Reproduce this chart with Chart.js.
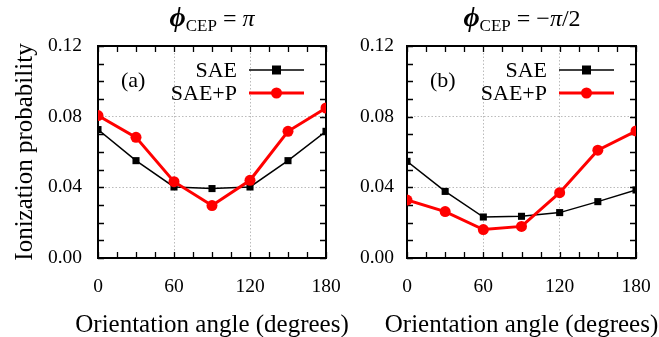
<!DOCTYPE html>
<html><head><meta charset="utf-8">
<script src="https://cdn.jsdelivr.net/npm/chart.js@4/dist/chart.umd.min.js"></script>
<style>
html,body{margin:0;padding:0;background:#fff;}
#wrap{position:relative;width:659px;height:337px;overflow:hidden;font-family:"Liberation Serif","Times New Roman",serif;}
canvas{position:absolute;top:0;}
.ttl{position:absolute;top:1px;font-size:24px;color:#000;white-space:nowrap;transform:translateX(-50%);}
.ttl .phi{font-weight:bold;font-style:italic;font-size:28px;}
.ttl sub{font-size:17px;vertical-align:-5px;}
.ttl i{font-style:italic;}
</style></head><body>
<div id="wrap">
<canvas id="ca" width="365" height="337" style="left:0;width:365px;height:337px"></canvas>
<canvas id="cb" width="345" height="337" style="left:340px;width:345px;height:337px"></canvas>
<div class="ttl" style="left:212px"><span class="phi">ϕ</span><sub>CEP</sub> = <i>π</i></div>
<div class="ttl" style="left:522px"><span class="phi">ϕ</span><sub>CEP</sub> = −<i>π</i>/2</div>
</div>
<script>
const angles = [0, 30, 60, 90, 120, 150, 180];
const saeA  = [0.0727, 0.0551, 0.0402, 0.0393, 0.0402, 0.0551, 0.0717];
const saePA = [0.0806, 0.0683, 0.0432, 0.0297, 0.0440, 0.0717, 0.0849];
const saeB  = [0.0547, 0.0377, 0.0232, 0.0236, 0.0257, 0.0319, 0.0385];
const saePB = [0.0328, 0.0263, 0.0161, 0.0179, 0.0370, 0.0610, 0.0719];
const yTicks = [0.00, 0.04, 0.08, 0.12];
const xTicks = [0, 60, 120, 180];
const seriesNames = ['SAE', 'SAE+P'];
const panelLabels = ['(a)', '(b)'];
const xTitle = 'Orientation angle (degrees)';
const yTitle = 'Ionization probability';

const FONT = "'Liberation Serif','Times New Roman',serif";

const framePlugin = {
  id: 'frame',
  beforeDatasetsDraw(chart) {
    const {ctx, chartArea: a, scales} = chart;
    const x = scales.x, y = scales.y;
    ctx.save();
    ctx.strokeStyle = '#000';
    ctx.lineWidth = 1.3;
    const L = 6;
    for (let v = 0; v <= 180; v += 15) {
      const px = Math.round(x.getPixelForValue(v)) + 0.5;
      ctx.beginPath();
      ctx.moveTo(px, a.bottom); ctx.lineTo(px, a.bottom - L);
      ctx.moveTo(px, a.top); ctx.lineTo(px, a.top + L);
      ctx.stroke();
    }
    for (let k = 0; k <= 12; k++) {
      const py = Math.round(y.getPixelForValue(k / 100)) + 0.5;
      ctx.beginPath();
      ctx.moveTo(a.left, py); ctx.lineTo(a.left + L, py);
      ctx.moveTo(a.right, py); ctx.lineTo(a.right - L, py);
      ctx.stroke();
    }
    ctx.lineWidth = 2;
    ctx.strokeRect(a.left, a.top, a.right - a.left, a.bottom - a.top);
    ctx.restore();
  },
  afterDatasetsDraw(chart, args, opts) {
    const {ctx, chartArea: a} = chart;
    ctx.save();
    ctx.fillStyle = '#000';
    ctx.font = '25px ' + FONT;
    ctx.textAlign = 'center';
    ctx.textBaseline = 'alphabetic';
    ctx.fillText(xTitle, (a.left + a.right) / 2, chart.height - 5.5);
    if (opts.showY) {
      ctx.save();
      ctx.translate(32, (a.top + a.bottom) / 2);
      ctx.rotate(-Math.PI / 2);
      ctx.fillText(yTitle, 0, 0);
      ctx.restore();
    }
    ctx.font = '22px ' + FONT;
    ctx.textBaseline = 'middle';
    ctx.textAlign = 'left';
    ctx.fillText(opts.label, a.left + 23, a.top + 35);
    const ds = chart.data.datasets;
    const tx = a.right - 89, lx0 = a.right - 77, lx1 = a.right - 22, mx = (lx0 + lx1) / 2;
    const ys = [a.top + 24, a.top + 47];
    ds.forEach((d, i) => {
      ctx.textAlign = 'right';
      ctx.fillStyle = '#000';
      ctx.fillText(d.label, tx, ys[i] + 1);
      ctx.strokeStyle = d.borderColor;
      ctx.lineWidth = d.borderWidth;
      ctx.beginPath(); ctx.moveTo(lx0, ys[i]); ctx.lineTo(lx1, ys[i]); ctx.stroke();
      ctx.fillStyle = d.pointBackgroundColor;
      if (d.pointStyle === 'rect') {
        ctx.fillRect(mx - 4.5, ys[i] - 4.5, 9, 9);
      } else {
        ctx.beginPath(); ctx.arc(mx, ys[i], 5.5, 0, Math.PI * 2); ctx.fill();
      }
    });
    ctx.restore();
  }
};

function makeChart(id, sae, saep, label, opts) {
  return new Chart(document.getElementById(id), {
    type: 'line',
    data: {
      datasets: [
        { label: seriesNames[0], data: angles.map((a, i) => ({x: a, y: sae[i]})),
          borderColor: '#000', backgroundColor: '#000', pointBackgroundColor: '#000',
          borderWidth: 1.5, pointStyle: 'rect', pointRadius: 5, pointBorderWidth: 0, tension: 0, order: 2 },
        { label: seriesNames[1], data: angles.map((a, i) => ({x: a, y: saep[i]})),
          borderColor: '#ff0000', backgroundColor: '#ff0000', pointBackgroundColor: '#ff0000',
          borderWidth: 3, pointStyle: 'circle', pointRadius: 5.5, pointBorderWidth: 0, tension: 0, order: 1 }
      ]
    },
    options: {
      responsive: false, animation: false, devicePixelRatio: 1,
      layout: { padding: { left: 0, right: opts.padRight, top: 46, bottom: 0 } },
      plugins: { legend: { display: false }, tooltip: { enabled: false }, frame: { label, showY: opts.yTitle } },
      scales: {
        x: {
          type: 'linear', min: 0, max: 180,
          afterBuildTicks: s => { s.ticks = xTicks.map(v => ({value: v})); },
          afterFit: s => { s.height = 79; },
          border: { display: false, dash: [1.5, 2] },
          grid: { drawTicks: false, lineWidth: 1,
            color: c => (c.tick && (c.tick.value === 60 || c.tick.value === 120)) ? '#bbbbbb' : 'rgba(0,0,0,0)' },
          ticks: { color: '#000', padding: 17, maxRotation: 0, font: { family: FONT, size: 19.5 } },
          title: { display: false }
        },
        y: {
          type: 'linear', min: 0, max: 0.12,
          afterBuildTicks: s => { s.ticks = yTicks.map(v => ({value: v})); },
          afterFit: s => { s.width = opts.yWidth; },
          border: { display: false, dash: [1.5, 2] },
          grid: { drawTicks: false, lineWidth: 1,
            color: c => (c.tick && (Math.abs(c.tick.value - 0.04) < 1e-6 || Math.abs(c.tick.value - 0.08) < 1e-6)) ? '#bbbbbb' : 'rgba(0,0,0,0)' },
          ticks: { color: '#000', padding: opts.yPad, font: { family: FONT, size: 19.5 },
            callback: v => v.toFixed(2) },
          title: { display: false }
        }
      }
    },
    plugins: [framePlugin]
  });
}

makeChart('ca', saeA, saePA, panelLabels[0], { padRight: 39, yWidth: 98, yPad: 16, yTitle: true });
makeChart('cb', saeB, saePB, panelLabels[1], { padRight: 49, yWidth: 67, yPad: 13, yTitle: false });
</script>
</body></html>
